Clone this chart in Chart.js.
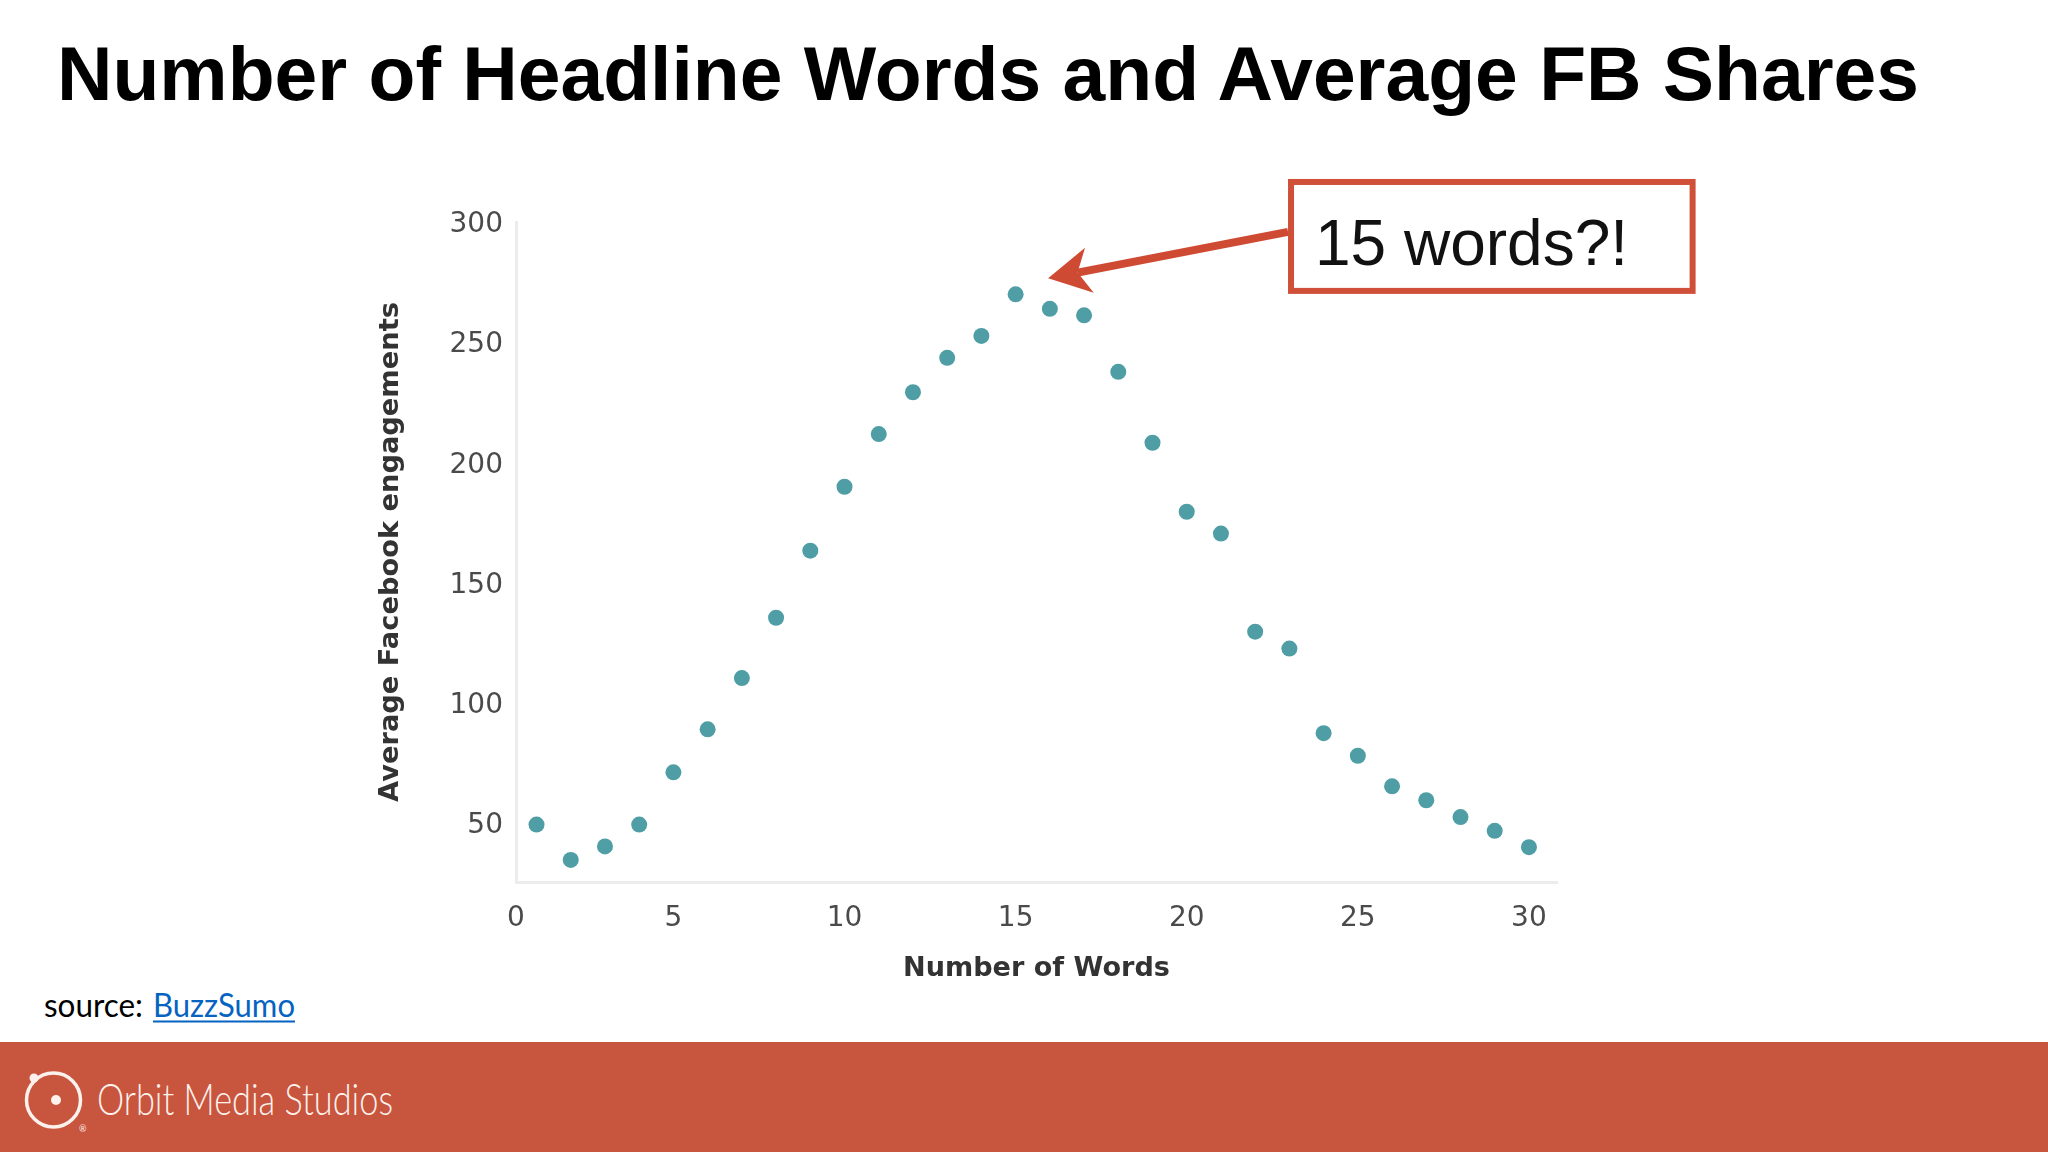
<!DOCTYPE html>
<html>
<head>
<meta charset="utf-8">
<script src="https://cdn.jsdelivr.net/npm/chart.js@4.4.1/dist/chart.umd.min.js"></script>
<style>
html,body{margin:0;padding:0;background:#fff;}
#slide{position:relative;width:2048px;height:1152px;overflow:hidden;background:#fff;}
#deco{position:absolute;left:0;top:0;}
#wrap{position:absolute;left:340px;top:160px;width:1400px;height:840px;}
</style>
</head>
<body>
<div id="slide">
  <svg id="deco" width="2048" height="1152">
    <text x="57" y="100" font-family="'Liberation Sans', Arial, sans-serif" font-weight="700" font-size="76.5"
          textLength="1862" lengthAdjust="spacingAndGlyphs" fill="#000">Number of Headline Words and Average FB Shares</text>

    <text x="44" y="1017" font-family="Lato, sans-serif" font-size="32" textLength="99" lengthAdjust="spacingAndGlyphs" fill="#000">source:</text>
    <text x="153" y="1017" font-family="Lato, sans-serif" font-size="32" textLength="142" lengthAdjust="spacingAndGlyphs" fill="#0563c1">BuzzSumo</text>
    <line x1="153" y1="1021.5" x2="295" y2="1021.5" stroke="#0563c1" stroke-width="2"/>

    <rect x="0" y="1042" width="2048" height="110" fill="#c8553d"/>
    <circle cx="53.5" cy="1100" r="27" fill="none" stroke="#fdf1ed" stroke-width="3.5"/>
    <circle cx="34" cy="1078" r="4.5" fill="#fdf1ed"/>
    <circle cx="56" cy="1100" r="5" fill="#fdf1ed"/>
    <text x="79" y="1132" font-family="Lato, sans-serif" font-size="9" fill="#fdf1ed">®</text>
    <text x="97" y="1115" font-family="Lato, sans-serif" font-weight="300" font-size="44"
          textLength="296" lengthAdjust="spacingAndGlyphs" fill="#fdf1ed">Orbit Media Studios</text>
  </svg>
  <div id="wrap"><canvas id="c" width="1400" height="840"></canvas></div>
</div>

<script>
// ---------- data ----------
const WORDS  = [1,2,3,4,5,6,7,8,9,10,11,12,13,14,15,16,17,18,19,20,21,22,23,24,25,26,27,28,29,30];
const SHARES = [50.6,35.9,41.5,50.6,72.3,90.2,111.5,136.6,164.5,191.1,
                213.0,230.4,244.7,253.8,271.1,265.1,262.4,238.9,209.4,180.7,
                171.6,130.8,123.8,88.6,79.2,66.5,60.7,53.7,48.0,41.2];
const X_TICKS = [0,5,10,15,20,25,30];
const Y_TICKS = [50,100,150,200,250,300];
const X_TITLE = "Number of Words";
const Y_TITLE = "Average Facebook engagements";

// callout, in data units
const NOTE_TEXT = "15 words?!";
const NOTE_BOX  = {x0:22.96, x1:34.87, y0:319.1, y1:271.3};
const NOTE_TIP  = {x:15.95, y:277.8};
const NOTE_TAIL_Y = 297.1;

// ---------- helpers ----------
const AXIS_FONT = "'DejaVu Sans', sans-serif";
function fitSize(text, weight, family, width){
  const c = document.createElement("canvas").getContext("2d");
  c.font = weight+" 100px "+family;
  return 100*width/c.measureText(text).width;
}
const ys = fitSize(Y_TITLE,"bold",AXIS_FONT,500);
const xs = fitSize(X_TITLE,"bold",AXIS_FONT,267);

const RED = "#cf4a33";
const callout = {
  id:"callout",
  afterDatasetsDraw(chart){
    const {ctx, scales:{x,y}} = chart;
    const bx0=x.getPixelForValue(NOTE_BOX.x0), bx1=x.getPixelForValue(NOTE_BOX.x1);
    const by0=y.getPixelForValue(NOTE_BOX.y0), by1=y.getPixelForValue(NOTE_BOX.y1);
    const tx=x.getPixelForValue(NOTE_TIP.x), ty=y.getPixelForValue(NOTE_TIP.y);
    const sx=bx0, sy=y.getPixelForValue(NOTE_TAIL_Y);
    const a=Math.atan2(sy-ty, sx-tx);
    const ux=Math.cos(a), uy=Math.sin(a), px=-uy, py=ux;
    const L=42, W=23, N=30;
    ctx.save();
    ctx.strokeStyle=RED; ctx.lineWidth=8;
    ctx.beginPath(); ctx.moveTo(sx,sy); ctx.lineTo(tx+ux*N,ty+uy*N); ctx.stroke();
    ctx.fillStyle=RED;
    ctx.beginPath();
    ctx.moveTo(tx,ty);
    ctx.lineTo(tx+ux*L+px*W, ty+uy*L+py*W);
    ctx.lineTo(tx+ux*N, ty+uy*N);
    ctx.lineTo(tx+ux*L-px*W, ty+uy*L-py*W);
    ctx.closePath(); ctx.fill();
    ctx.fillStyle="#fff"; ctx.fillRect(bx0,by0,bx1-bx0,by1-by0);
    ctx.lineWidth=6; ctx.strokeStyle="#cf4f38";
    ctx.strokeRect(bx0+3,by0+3,bx1-bx0-6,by1-by0-6);
    ctx.fillStyle="#111"; ctx.font="64px 'Liberation Sans', Arial, sans-serif";
    ctx.textBaseline="alphabetic"; ctx.textAlign="left";
    ctx.fillText(NOTE_TEXT, bx0+27, by0+86);
    ctx.restore();
  }
};

// ---------- chart ----------
new Chart(document.getElementById("c"),{
  type:"scatter",
  data:{datasets:[{
    data:WORDS.map((w,i)=>({x:w,y:SHARES[i]})),
    backgroundColor:"#4f9ea6", borderWidth:0, pointRadius:8, pointHoverRadius:8
  }]},
  options:{
    responsive:false, animation:false,
    layout:{padding:{left:0,top:62,right:183,bottom:0}},
    plugins:{legend:{display:false},tooltip:{enabled:false}},
    scales:{
      x:{type:"linear",min:0.4,max:30.82,
        afterBuildTicks:s=>{s.ticks=X_TICKS.map(v=>({value:Math.max(v,s.min)}));},
        afterFit:s=>{s.height=118;},
        grid:{display:false,drawTicks:false},
        border:{color:"#ececec",width:3},
        ticks:{padding:20,color:"#4a4a4a",autoSkip:false,maxRotation:0,
          font:{family:AXIS_FONT,size:28},callback:(v,i)=>X_TICKS[i]},
        title:{display:true,text:X_TITLE,color:"#333",
          font:{family:AXIS_FONT,weight:"bold",size:xs,lineHeight:1.2},
          padding:{top:0,bottom:31-0.6*xs}}
      },
      y:{type:"linear",min:26.7,max:301.2,
        afterBuildTicks:s=>{s.ticks=Y_TICKS.map(v=>({value:v}));},
        afterFit:s=>{s.width=176;},
        grid:{display:false,drawTicks:false},
        border:{color:"#ececec",width:3},
        ticks:{padding:13,color:"#4a4a4a",font:{family:AXIS_FONT,size:28}},
        title:{display:true,text:Y_TITLE,color:"#333",
          font:{family:AXIS_FONT,weight:"bold",size:ys,lineHeight:1.2},
          padding:{top:51-0.6*ys,bottom:0}}
      }
    }
  },
  plugins:[callout]
});
</script>
</body>
</html>
